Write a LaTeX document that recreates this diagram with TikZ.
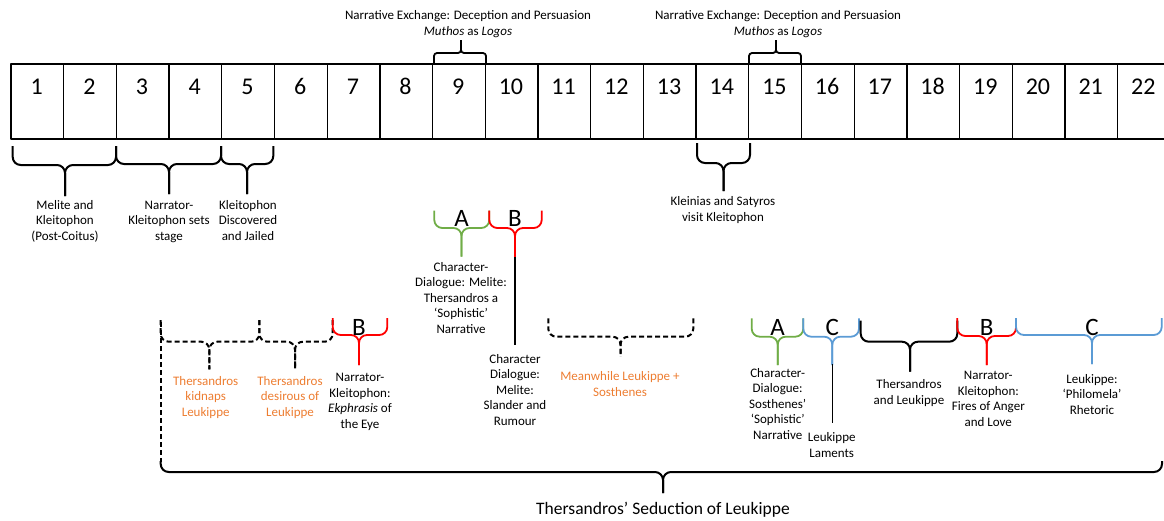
\documentclass[tikz,border=0pt]{standalone}
\usepackage{fontspec}
\setmainfont{Carlito}
\definecolor{brgreen}{HTML}{70AD47}
\definecolor{brred}{HTML}{FF0000}
\definecolor{brblue}{HTML}{5B9BD5}
\definecolor{txorange}{HTML}{ED7D31}

% curly brace: style, left x, right x, middle x, leg end y, arm y, tip y
\newcommand\drawbrace[7]{%
  \draw[#1] (#2,#5) -- (#2,#6) -- (#4,#6) -- (#4,#7);
  \draw[#1] (#3,#5) -- (#3,#6) -- (#4,#6) -- (#4,#7);}

\begin{document}
\begin{tikzpicture}[x=1pt,y=-1pt,line join=round,
  cell/.style={draw,line width=1.3pt,minimum width=52.7pt,minimum height=75pt,inner sep=0pt,anchor=north west},
  num/.style={font=\fontsize{24}{28}\selectfont,inner sep=0pt,anchor=base},
  letter/.style={font=\fontsize{25}{29}\selectfont,inner sep=0pt,anchor=base},
  lbl/.style={font=\fontsize{13}{15.5}\selectfont,align=center,inner sep=0pt,anchor=base},
  olbl/.style={lbl,text=txorange},
  title/.style={font=\fontsize{17.5}{20}\selectfont,inner sep=0pt,anchor=base},
  bkbrace/.style={line width=2pt,black,rounded corners=8pt},
  topbrace/.style={line width=1.8pt,black,rounded corners=3pt},
  dashbrace/.style={line width=2pt,black,dash pattern=on 5pt off 3pt,rounded corners=8pt},
  gbrace/.style={line width=1.8pt,brgreen,rounded corners=8pt},
  rbrace/.style={line width=1.8pt,brred,rounded corners=8pt},
  bbrace/.style={line width=1.8pt,brblue,rounded corners=8pt},
  thinln/.style={line width=1.1pt,black}]
\useasboundingbox (0,0) rectangle (1164,520);

% chapter strip (label positions below are given at the baseline of each label's last line)
\foreach \k in {1,...,22}{
  \node[cell] (cell\k) at ({10.3+(\k-1)*52.7},63.3) {};
  \node[num] (n\k) at ({10.3+(\k-0.5)*52.7},94.5) {\k};
}

% narrative exchange brackets above the strip
\drawbrace{topbrace}{434}{486}{461}{63.3}{53}{40}
\node[lbl] (ex1) at (468,35.3) {Narrative Exchange: Deception and Persuasion\\\textit{Muthos} as \textit{Logos}};
\drawbrace{topbrace}{749}{801}{776}{63.3}{53}{40}
\node[lbl] (ex2) at (778,35.3) {Narrative Exchange: Deception and Persuasion\\\textit{Muthos} as \textit{Logos}};

% braces directly below the strip
\drawbrace{bkbrace}{12.7}{116}{65}{146}{165}{196}
\node[lbl] (mk) at (65,240.3) {Melite and\\Kleitophon\\(Post-Coitus)};
\drawbrace{bkbrace}{116}{221}{169}{146}{164}{194}
\node[lbl] (nk) at (169,240.3) {Narrator-\\Kleitophon sets\\stage};
\drawbrace{bkbrace}{221}{273.3}{247}{146}{164}{194}
\node[lbl] (kd) at (248,240.3) {Kleitophon\\Discovered\\and Jailed};
\drawbrace{bkbrace}{697}{750}{723.5}{143}{163}{191}
\node[lbl] (ks) at (723,221.3) {Kleinias and Satyros\\visit Kleitophon};

% Melite's dialogue, A and B
\drawbrace{gbrace}{434.3}{489.3}{461.5}{210.7}{228}{256.7}
\node[letter] (la1) at (461.5,226.5) {A};
\drawbrace{rbrace}{489.3}{541.7}{515}{210.7}{228}{258}
\node[letter] (lb1) at (515,226.5) {B};
\node[lbl] (cdm) at (461,333) {Character-\\Dialogue: Melite:\\Thersandros a\\‘Sophistic’\\Narrative};
\node[lbl] (cds) at (515,425.3) {Character\\Dialogue:\\Melite:\\Slander and\\Rumour};
\coordinate (tb1) at (515,257);
\coordinate (eb1) at (515,345);
\draw[thinln] (tb1) -- (eb1);

\drawbrace{dashbrace}{548.3}{693.3}{620.5}{318.3}{336.7}{356.7}
\node[olbl] (mls) at (620,396.3) {Meanwhile Leukippe +\\Sosthenes};

% seduction section, left part
\drawbrace{dashbrace}{160.7}{259.3}{209.3}{320}{341.7}{369.3}
\node[olbl] (tkl) at (205.7,416.3) {Thersandros\\kidnaps\\Leukippe};
\drawbrace{dashbrace}{259.3}{332.7}{295}{320}{341.7}{369}
\node[olbl] (tdl) at (290,416.3) {Thersandros\\desirous of\\Leukippe};
\drawbrace{rbrace}{332.7}{387.3}{359}{318}{335}{365}
\node[letter] (lb2) at (359,335) {B};
\node[lbl] (nke) at (360,428) {Narrator-\\Kleitophon:\\\textit{Ekphrasis} of\\the Eye};

% seduction section, right part
\drawbrace{gbrace}{751.7}{803.3}{777.7}{318.3}{336.7}{365}
\node[letter] (la2) at (777.7,335) {A};
\drawbrace{bbrace}{803.3}{859}{832.3}{318.3}{336.7}{365}
\node[letter] (lc1) at (832.3,335) {C};
\coordinate (tc1) at (832.3,364);
\coordinate (ec1) at (832.3,423.3);
\draw[thinln] (tc1) -- (ec1);
\node[lbl] (cdso) at (777.7,439) {Character-\\Dialogue:\\Sosthenes’\\‘Sophistic’\\Narrative};
\node[lbl] (ll) at (831.7,457.3) {Leukippe\\Laments};
\drawbrace{bkbrace}{860.7}{957.3}{910}{320.7}{341.7}{371.7}
\node[lbl] (tal) at (909,404.3) {Thersandros\\and Leukippe};
\drawbrace{rbrace}{957.3}{1016}{986.7}{318}{336}{365}
\node[letter] (lb3) at (986.7,335) {B};
\node[lbl] (nkf) at (988.3,426.3) {Narrator-\\Kleitophon:\\Fires of Anger\\and Love};
\drawbrace{bbrace}{1016}{1161.7}{1092}{318}{335}{364}
\node[letter] (lc2) at (1092,335) {C};
\node[lbl] (lpr) at (1092,414.3) {Leukippe:\\‘Philomela’\\Rhetoric};

% overall brace
\draw[line width=2pt,black,dash pattern=on 5pt off 3pt] (160.7,322) -- (160.7,462);
\drawbrace{bkbrace}{160.7}{1162}{663}{461}{472}{493}
\node[title] (seduction) at (663,514) {Thersandros’ Seduction of Leukippe};
\end{tikzpicture}
\end{document}
